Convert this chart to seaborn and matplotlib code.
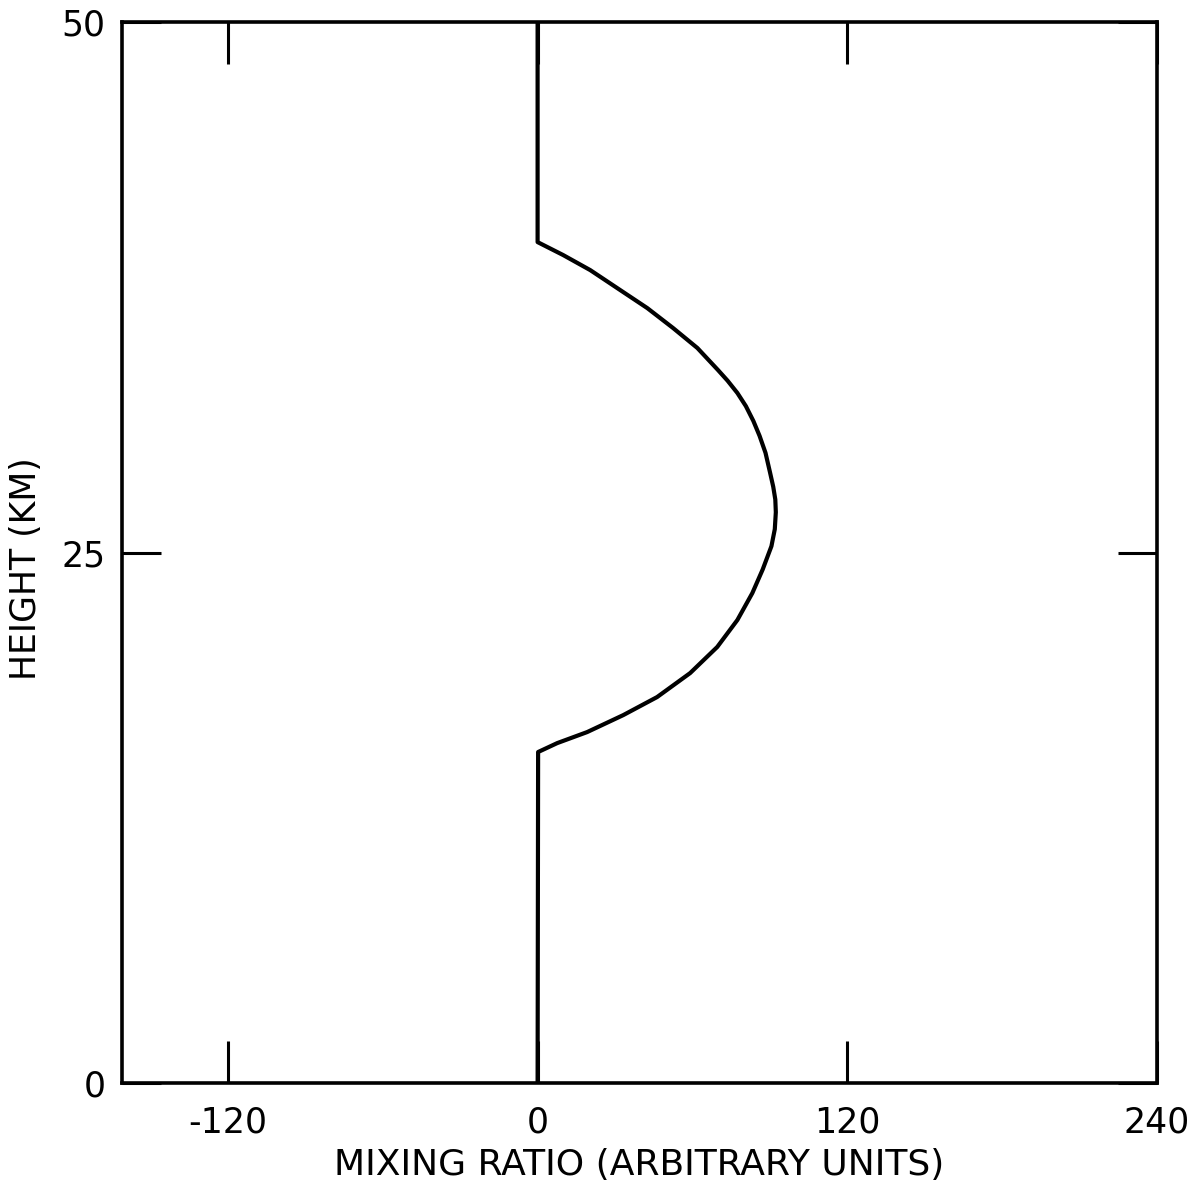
import matplotlib
matplotlib.use("Agg")
import matplotlib.pyplot as plt
import seaborn as sns
import pandas as pd

# Vertical profile of the mixing ratio: zero below ~15.6 km and above ~39.6 km,
# with a layer peaking near 27 km in between.
height_km = [0.0, 15.60, 16.02, 16.54, 17.34, 18.19, 19.32, 20.55, 21.82, 23.09,
             24.20, 25.30, 26.10, 26.90, 27.50, 28.10, 28.75, 29.70, 30.50,
             31.20, 31.90, 32.52, 33.10, 33.60, 34.64, 35.58, 36.52, 37.37,
             38.31, 39.02, 39.63, 50.0]
mixing_ratio = [0.0, 0.2, 7.6, 19.2, 33.2, 46.3, 59.1, 69.6, 77.4, 83.2,
                87.2, 90.6, 91.9, 92.3, 92.1, 91.3, 90.1, 88.3, 86.0,
                83.6, 80.7, 77.4, 73.6, 69.9, 61.9, 52.5, 42.5, 32.0,
                20.4, 9.9, 0.0, 0.0]

x_ticks = [-120, 0, 120, 240]
x_tick_labels = ["-120", "0", "120", "240"]
y_ticks = [0, 25, 50]
y_tick_labels = ["0", "25", "50"]

profile = pd.DataFrame({"ratio": mixing_ratio, "height": height_km})

sns.set_theme(style="ticks")
plt.rcParams["font.family"] = ["DejaVu Sans"]
plt.rcParams.update({
    "text.color": "black",
    "axes.labelcolor": "black",
    "xtick.color": "black",
    "ytick.color": "black",
    "axes.edgecolor": "black",
})

fig = plt.figure(figsize=(11.99, 11.92), dpi=100)
ax = fig.add_axes([0.1018, 0.0914, 0.8632, 0.8901])

sns.lineplot(data=profile, x="ratio", y="height", sort=False, estimator=None,
             color="black", linewidth=3.0, ax=ax)
for line in ax.get_lines():
    line.set_solid_joinstyle("round")
    line.set_solid_capstyle("round")

ax.set_xlim(-161, 240)
ax.set_ylim(0, 50)

ax.set_xticks(x_ticks)
ax.set_xticklabels(x_tick_labels)
ax.set_yticks(y_ticks)
ax.set_yticklabels(y_tick_labels)

for s in ax.spines.values():
    s.set_visible(True)
    s.set_linewidth(2.6)
    s.set_color("black")

ax.tick_params(axis="x", which="major", direction="in", length=30, width=2.2,
               top=True, bottom=True, labelsize=25, pad=16)
ax.tick_params(axis="y", which="major", direction="in", length=28, width=2.2,
               left=True, right=True, labelsize=25, pad=12)

ax.set_xlabel("MIXING RATIO (ARBITRARY UNITS)", fontsize=26, labelpad=6)
ax.set_ylabel("HEIGHT (KM)", fontsize=25)
ax.yaxis.set_label_coords(-0.076, 0.485)

ax.grid(False)
ax.set_facecolor("white")
fig.patch.set_facecolor("white")

fig.savefig("out.png", dpi=100, facecolor="white")
